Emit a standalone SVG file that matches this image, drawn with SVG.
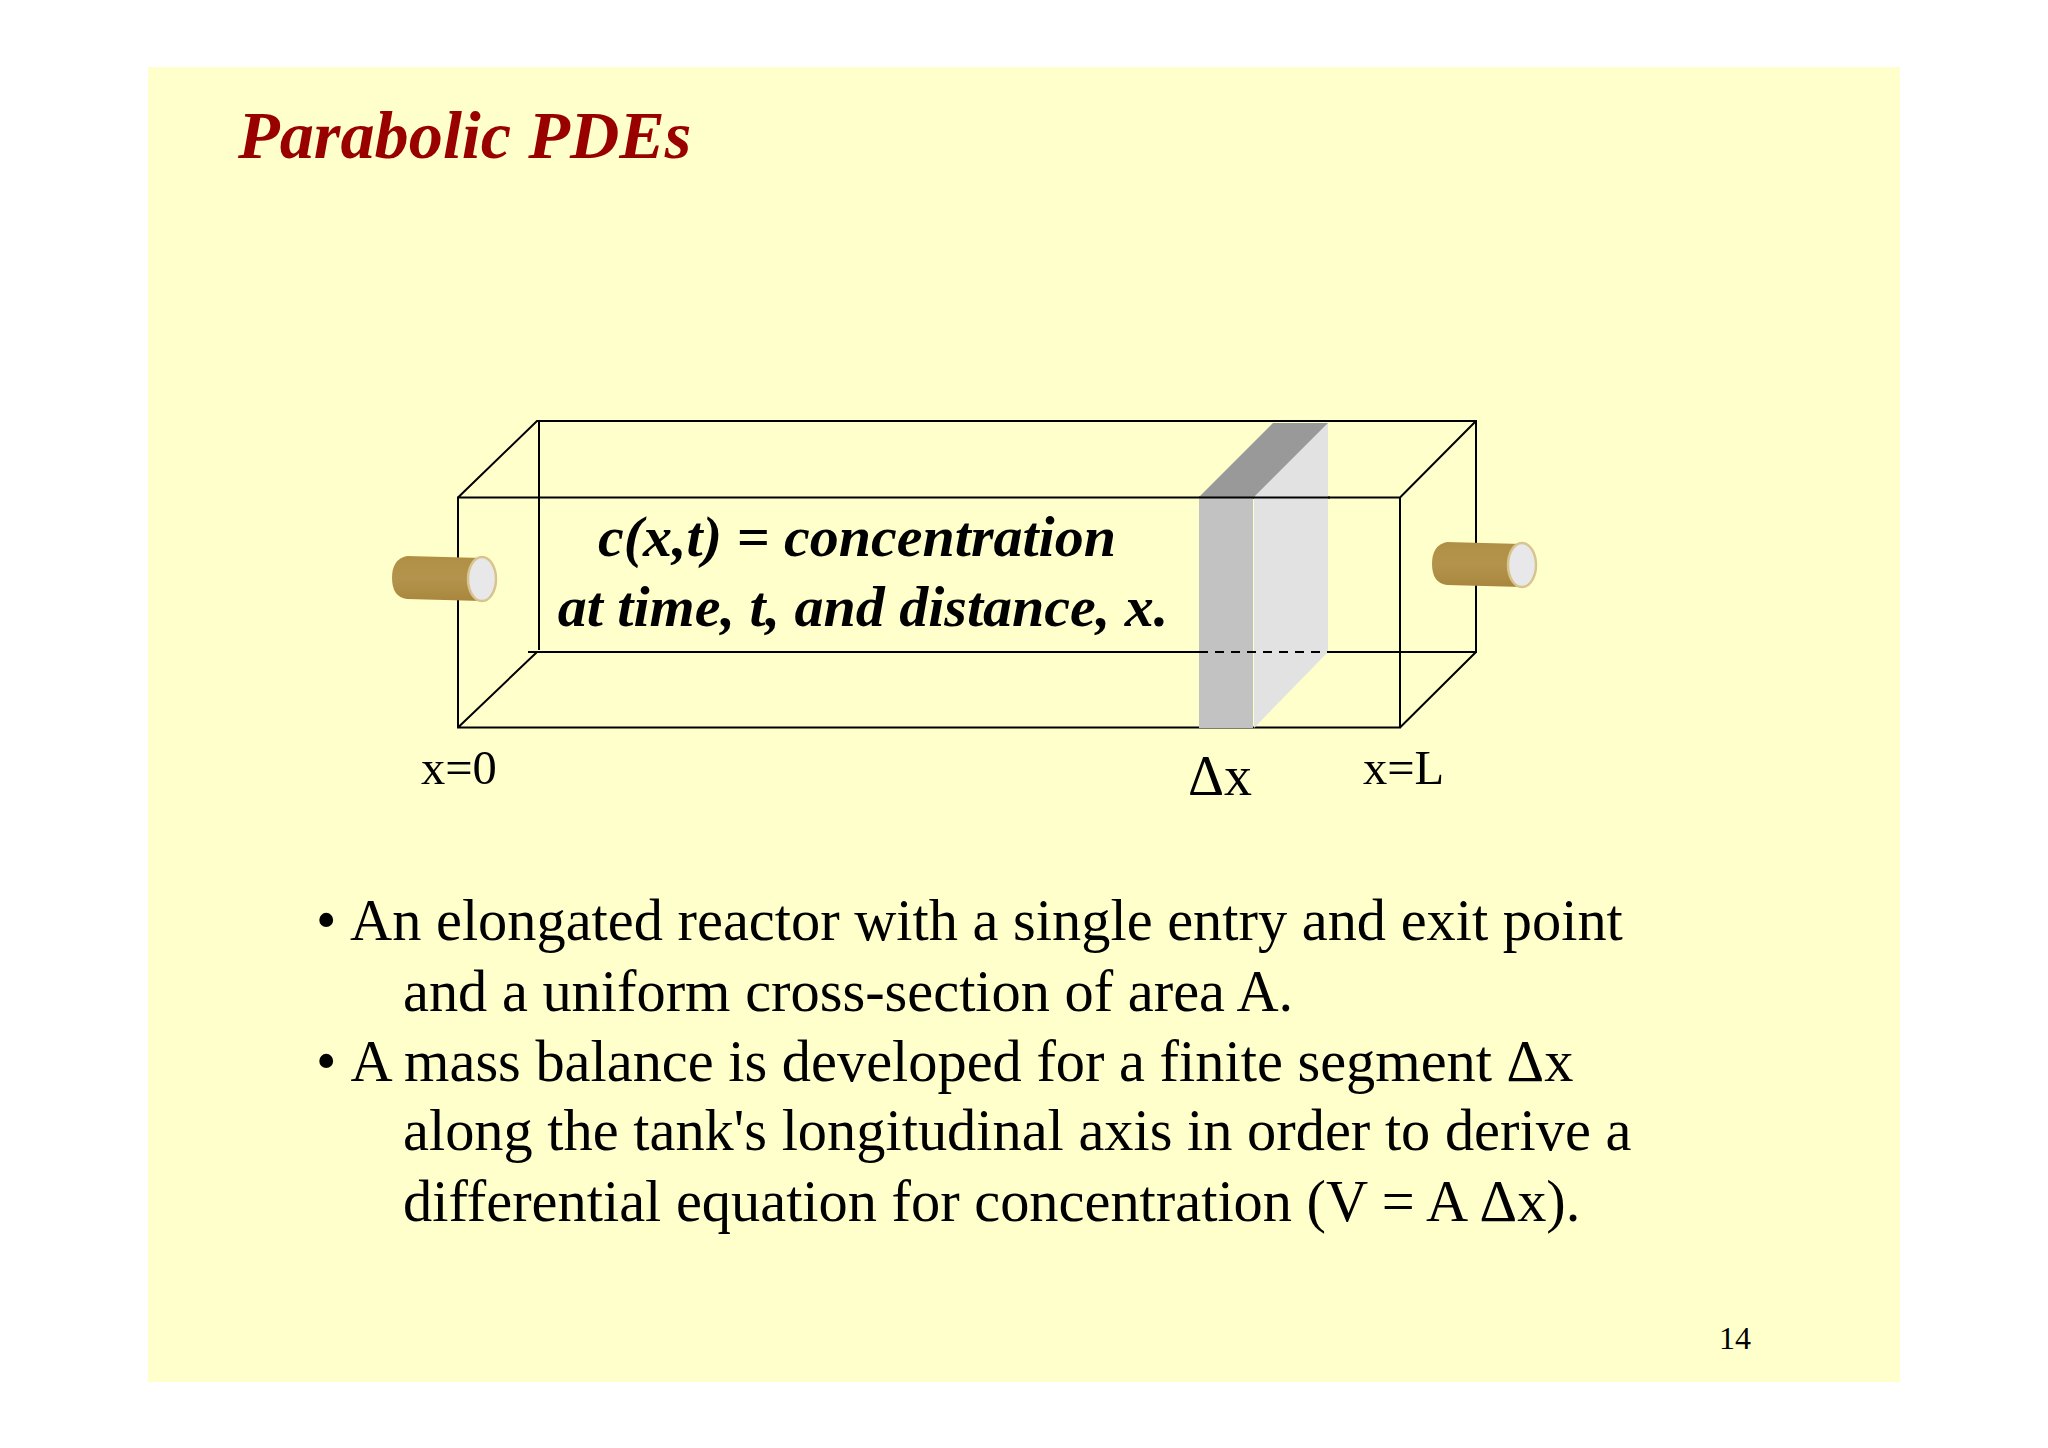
<svg xmlns="http://www.w3.org/2000/svg" width="2048" height="1448" viewBox="0 0 2048 1448">
<defs>
<style>
text{font-family:"Liberation Serif","Times New Roman",serif;fill:#000}
.b{font-size:58.4px}
.l{font-size:48.5px}
.c{font-size:58px;font-weight:bold;font-style:italic;text-anchor:middle}
.e{stroke:#000;stroke-width:2;fill:none}
</style>
<linearGradient id="tube" x1="0" y1="0" x2="0" y2="1"><stop offset="0" stop-color="#b08f45"/><stop offset="0.5" stop-color="#b4944c"/><stop offset="1" stop-color="#a8863e"/></linearGradient>
</defs>
<rect width="2048" height="1448" fill="#fff"/>
<rect id="slide" x="148" y="67" width="1752" height="1315" fill="#ffffcc"/>
<text id="title" x="238" y="157.5" font-size="68.3" font-weight="bold" font-style="italic" style="fill:#990000">Parabolic PDEs</text>
<g id="connectors">
<path class="e" d="M458 497.5H1400V727.5H458ZM458 497.5L537 421H1476V652H528M539 421V650M458 727.5L537 652M1400 497.5L1476 421M1400 727.5L1476 652"/>
</g>
<g id="slab">
<rect x="1199" y="497" width="54" height="231" fill="#c2c2c2"/>
<path d="M1254 497L1328 423V652L1254 728Z" fill="#e2e2e2"/>
<path d="M1199 497L1273 423H1328L1254 497Z" fill="#999"/>
<path d="M1199 497.5H1330" stroke="#000" stroke-width="2"/>
<path d="M1199 652H1330" stroke="#000" stroke-width="2" stroke-dasharray="9 7"/>
</g>
<g id="inlet">
<path d="M407 556L482 558V601L407 599Q392 597 392 578Q392 559 407 556Z" fill="url(#tube)"/>
<ellipse cx="482" cy="579" rx="14" ry="22" fill="#e8e8ea" stroke="#d8c48e" stroke-width="2.5"/>
</g>
<g id="outlet">
<path d="M1447 542L1522 544V587L1447 585Q1432 583 1432 564Q1432 545 1447 542Z" fill="url(#tube)"/>
<ellipse cx="1522" cy="565" rx="14" ry="22" fill="#e8e8ea" stroke="#d8c48e" stroke-width="2.5"/>
</g>
<g id="labels">
<text class="c" x="857" y="555.5">c(x,t) = concentration</text>
<text class="c" x="863" y="625.5">at time, t, and distance, x.</text>
<text class="l" x="421" y="784">x=0</text>
<text x="1188" y="795" font-size="56">Δx</text>
<text class="l" x="1363" y="784">x=L</text>
</g>
<g id="bullets">
<text class="b" x="316" y="940">• <tspan x="350">An elongated reactor with a single entry and exit point</tspan></text>
<text class="b" x="403" y="1010.5">and a uniform cross-section of area A.</text>
<text class="b" x="316" y="1081">• <tspan x="350.5">A mass balance is developed for a finite segment Δx</tspan></text>
<text class="b" x="403" y="1150">along the tank's longitudinal axis in order to derive a</text>
<text class="b" x="403" y="1221">differential equation for concentration (V = A Δx).</text>
</g>
<text id="page" x="1719" y="1349" font-size="32">14</text>
</svg>
